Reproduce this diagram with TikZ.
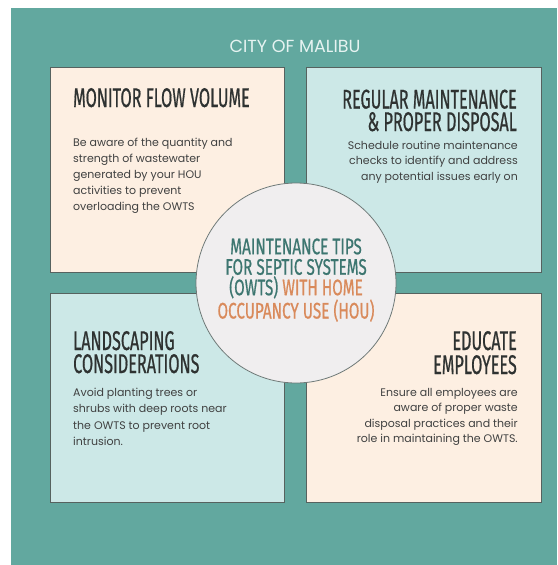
\documentclass[tikz,border=0pt]{standalone}
\usepackage{fontspec}
\setmainfont{Poppins}
\newfontfamily\headfont[FakeStretch=0.6,FakeBold=0.6]{Fira Sans}
\newfontfamily\hubfont[FakeStretch=0.68,FakeBold=0.6]{Fira Sans}
\definecolor{bgteal}{HTML}{62A89F}
\definecolor{peach}{HTML}{FDEFE2}
\definecolor{lteal}{HTML}{CCE8E7}
\definecolor{circfill}{HTML}{F0EEEF}
\definecolor{circline}{HTML}{6F7A78}
\definecolor{boxline}{HTML}{56625F}
\definecolor{headtext}{HTML}{2E3231}
\definecolor{bodytext}{HTML}{404141}
\definecolor{circteal}{HTML}{3D7670}
\definecolor{orng}{HTML}{D98A5B}
\definecolor{titletext}{HTML}{E6F3F1}
\tikzset{
  card/.style={draw=boxline, line width=0.9pt, anchor=north west, inner sep=0pt},
  heading/.style={font=\headfont\fontsize{27}{23}\selectfont, text=headtext, inner sep=0pt},
  bodytxt/.style={font=\fontsize{11}{16}\selectfont, text=bodytext, inner sep=0pt},
}
\begin{document}
\begin{tikzpicture}[x=1pt,y=-1pt]
\useasboundingbox (0,0) rectangle (557,565);
\fill[white] (0,0) rectangle (557,565);
\fill[bgteal] (11,8) rectangle (557,565);

\node[text=titletext, font=\fontsize{17.5}{20}\selectfont, anchor=base, inner sep=0pt] (title) at (295,52.5) {CITY OF MALIBU};

\node[card, fill=peach, minimum width=234pt, minimum height=205pt] (mon) at (50,67) {};
\node[card, fill=lteal, minimum width=235pt, minimum height=205pt] (reg) at (306,67) {};
\node[card, fill=lteal, minimum width=234pt, minimum height=209pt] (land) at (50,293) {};
\node[card, fill=peach, minimum width=235pt, minimum height=209pt] (edu) at (306,293) {};

% base anchor = baseline of the last line
\node[heading, anchor=base west] (monh) at (73,107) {MONITOR FLOW VOLUME};
\node[bodytxt, font=\fontsize{11}{16.2}\selectfont, anchor=base west, align=left] (monb) at (73,210.8) {Be aware of the quantity and\\strength of wastewater\\generated by your HOU\\activities to prevent\\overloading the OWTS};

\node[heading, font=\headfont\fontsize{27}{22.5}\selectfont, anchor=base east, align=right] (regh) at (517,131) {REGULAR MAINTENANCE\\\& PROPER DISPOSAL};
\node[bodytxt, font=\fontsize{11}{15.5}\selectfont, anchor=base east, align=right] (regb) at (518,180) {Schedule routine maintenance\\checks to identify and address\\any potential issues early on};

\node[heading, anchor=base west, align=left] (landh) at (73,373) {LANDSCAPING\\CONSIDERATIONS};
\node[bodytxt, font=\fontsize{11}{16.5}\selectfont, anchor=base west, align=left] (landb) at (73,445.5) {Avoid planting trees or\\shrubs with deep roots near\\the OWTS to prevent root\\intrusion.};

\node[heading, font=\headfont\fontsize{27}{24}\selectfont, anchor=base east, align=right] (eduh) at (517,374) {EDUCATE\\EMPLOYEES};
\node[bodytxt, font=\fontsize{11}{15.5}\selectfont, anchor=base east, align=right] (edub) at (518,442.5) {Ensure all employees are\\aware of proper waste\\disposal practices and their\\role in maintaining the OWTS.};

\node[circle, fill=circfill, draw=circline, line width=0.8pt, minimum size=200pt, inner sep=0pt] (hub) at (296,283) {};
\node[font=\hubfont\fontsize{22.5}{20.5}\selectfont, align=center, anchor=base, inner sep=0pt] (hubt) at (296,318.5)
 {\textcolor{circteal}{MAINTENANCE TIPS}\\\textcolor{circteal}{FOR SEPTIC SYSTEMS}\\\textcolor{circteal}{(OWTS)} \textcolor{orng}{WITH HOME}\\\textcolor{orng}{OCCUPANCY USE (HOU)}};
\end{tikzpicture}
\end{document}
